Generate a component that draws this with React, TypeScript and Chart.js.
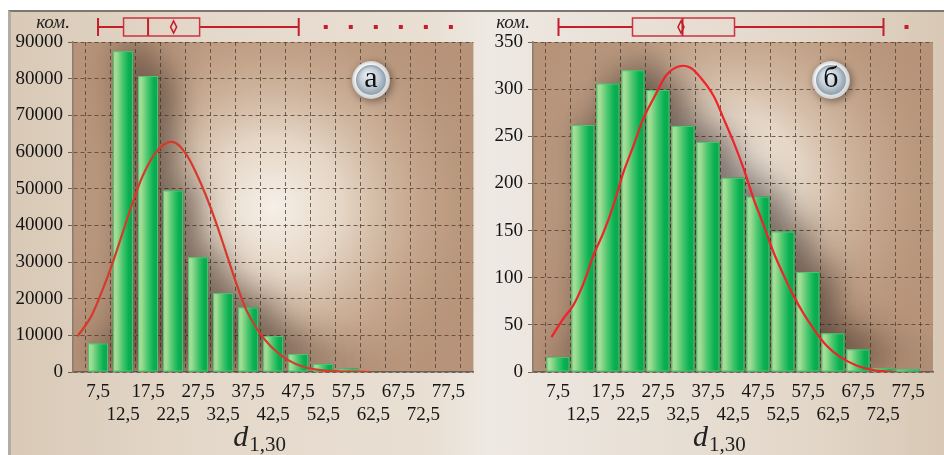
import React, { useEffect, useRef } from 'react';
import { Chart, registerables } from 'chart.js';

Chart.register(...registerables);

// Bin centres of the histograms (class width 5)
const binCenters = [7.5, 12.5, 17.5, 22.5, 27.5, 32.5, 37.5, 42.5, 47.5, 52.5, 57.5, 62.5, 67.5, 72.5, 77.5];
const tickLabels = ['7,5', '12,5', '17,5', '22,5', '27,5', '32,5', '37,5', '42,5', '47,5', '52,5', '57,5', '62,5', '67,5', '72,5', '77,5'];

// Panel (а): counts per bin
const countsA = [7800, 87500, 80700, 49500, 31300, 21500, 17600, 9800, 4900, 2200, 900, 0, 0, 0, 0];
// Panel (б): counts per bin
const countsB = [16, 262, 306, 320, 299, 261, 244, 206, 186, 149, 106, 41, 24, 4, 3];

// Fitted density curves
const curveAx = [3.4, 6.1, 8.4, 10.4, 12.4, 14.4, 16.4, 18.8, 21.1, 23.1, 25.1, 27.1, 29.1, 31.1, 33.1, 35.1, 37.1, 39.4, 42.1, 45.4, 48.8, 52.8, 57.5, 62.1];
const curveAy = [9700, 15100, 22400, 29700, 37900, 46100, 53400, 59400, 62400, 62400, 59400, 54300, 48000, 40700, 32500, 24300, 17000, 11500, 6900, 3300, 1300, 400, 100, 0];
const curveBx = [6.2, 8.6, 10.6, 12.6, 14.6, 16.6, 18.6, 20.6, 22.6, 24.6, 26.9, 29.2, 31.6, 33.9, 36.2, 38.6, 40.6, 42.6, 44.6, 46.6, 48.6, 50.6, 52.6, 54.6, 56.6, 58.6, 61.2, 63.9, 67.2, 70.6, 74.6];
const curveBy = [37, 57, 71, 94, 124, 148, 177, 212, 240, 269, 293, 315, 324, 323, 311, 293, 269, 244, 216, 184, 156, 127, 103, 81, 62, 46, 28, 16, 7, 2, 0];

// Box plots: [lower whisker, Q1, median, Q3, upper whisker]
const boxA = [7.5, 12.6, 17.5, 27.8, 47.6];
const meanA = 22.6;
const outliersA = [53, 58, 63, 68, 73, 78];
const boxB = [7.6, 22.4, 32.4, 42.8, 72.6];
const meanB = 32.1;
const outliersB = [77.2];

const SERIF = '"Liberation Serif", "Times New Roman", serif';
const GRID = 'rgba(85,66,50,0.8)';
const RED = '#c41e2c';

type PanelProps = {
  counts: number[];
  curveX: number[];
  curveY: number[];
  yMax: number;
  yStep: number;
  box: number[];
  mean: number;
  outliers: number[];
  barFrac: number;
  letter: string;
  lineColor: string;
  yAxisWidth: number;
  padRight: number;
  width: number;
  left: number;
  glowX: number;
  glowY: number;
};

function Panel(p: PanelProps) {
  const ref = useRef<HTMLCanvasElement>(null);

  useEffect(() => {
    const canvas = ref.current;
    if (!canvas) return;

    const decor = {
      id: 'panelDecor',
      beforeDraw(chart: any) {
        const { ctx, chartArea: a } = chart;
        const w = a.right - a.left;
        const h = a.bottom - a.top;
        ctx.save();
        ctx.fillStyle = '#b69379';
        ctx.fillRect(a.left, a.top, w, h);
        const cx = a.left + w * p.glowX;
        const cy = a.top + h * p.glowY;
        const g = ctx.createRadialGradient(cx, cy, 0, cx, cy, 230);
        g.addColorStop(0, 'rgba(246,240,233,1)');
        g.addColorStop(0.3, 'rgba(234,221,206,0.9)');
        g.addColorStop(0.7, 'rgba(205,176,150,0.45)');
        g.addColorStop(1, 'rgba(182,147,121,0)');
        ctx.fillStyle = g;
        ctx.fillRect(a.left, a.top, w, h);
        ctx.restore();
      },
      beforeDatasetDraw(chart: any, args: any) {
        if (args.index !== 0) return;
        const { ctx, chartArea: a } = chart;
        const bars = args.meta.data;
        ctx.save();
        ctx.beginPath();
        ctx.rect(a.left, a.top, a.right - a.left, a.bottom - a.top);
        ctx.clip();
        // soft dark haze behind the bars
        ctx.shadowColor = 'rgba(45,32,28,0.8)';
        ctx.shadowBlur = 34;
        ctx.shadowOffsetX = 12;
        ctx.shadowOffsetY = -6;
        ctx.fillStyle = 'rgba(70,60,55,1)';
        bars.forEach((el: any) => {
          const { x, y, base, width } = el.getProps(['x', 'y', 'base', 'width'], true);
          if (base - y < 0.5) return;
          ctx.fillRect(x - width / 2, y, width, base - y);
        });
        ctx.shadowColor = 'rgba(0,0,0,0)';
        ctx.shadowBlur = 0;
        ctx.shadowOffsetX = 0;
        ctx.shadowOffsetY = 0;
        bars.forEach((el: any) => {
          const { x, y, base, width } = el.getProps(['x', 'y', 'base', 'width'], true);
          if (base - y < 0.5) return;
          const l = x - width / 2;
          const g = ctx.createLinearGradient(l, 0, l + width, 0);
          g.addColorStop(0, '#a9de9c');
          g.addColorStop(0.18, '#9ddc92');
          g.addColorStop(0.5, '#45c46c');
          g.addColorStop(0.78, '#06b152');
          g.addColorStop(1, '#13a24e');
          ctx.fillStyle = g;
          ctx.fillRect(l, y, width, base - y);
          ctx.strokeStyle = '#52c373';
          ctx.lineWidth = 1;
          ctx.strokeRect(l + 0.5, y + 0.5, width - 1, base - y - 1);
        });
        ctx.restore();
        return false;
      },
      afterDraw(chart: any) {
        const { ctx, chartArea: a, scales } = chart;
        const xs = scales.x;
        const px = (v: number) => xs.getPixelForValue(v);
        ctx.save();

        // box plot above the plot area
        const cy = a.top - 15;
        const top = cy - 9;
        const bot = cy + 9;
        ctx.strokeStyle = RED;
        ctx.lineWidth = 2;
        ctx.beginPath();
        ctx.moveTo(px(p.box[0]), cy);
        ctx.lineTo(px(p.box[1]), cy);
        ctx.moveTo(px(p.box[3]), cy);
        ctx.lineTo(px(p.box[4]), cy);
        ctx.moveTo(px(p.box[0]), top);
        ctx.lineTo(px(p.box[0]), bot);
        ctx.moveTo(px(p.box[4]), top);
        ctx.lineTo(px(p.box[4]), bot);
        ctx.moveTo(px(p.box[2]), top);
        ctx.lineTo(px(p.box[2]), bot);
        ctx.stroke();
        ctx.lineWidth = 1.5;
        ctx.strokeStyle = '#cc3340';
        ctx.strokeRect(px(p.box[1]), top, px(p.box[3]) - px(p.box[1]), bot - top);
        // mean marker
        const mx = px(p.mean);
        ctx.strokeStyle = RED;
        ctx.lineWidth = 1.6;
        ctx.beginPath();
        ctx.moveTo(mx, cy - 6);
        ctx.lineTo(mx + 3, cy);
        ctx.lineTo(mx, cy + 6);
        ctx.lineTo(mx - 3, cy);
        ctx.closePath();
        ctx.stroke();
        // outliers
        ctx.fillStyle = RED;
        p.outliers.forEach((v) => ctx.fillRect(px(v) - 2, cy - 2, 4, 4));

        // unit label
        ctx.fillStyle = '#222';
        ctx.font = `italic 19px ${SERIF}`;
        ctx.textAlign = 'right';
        ctx.textBaseline = 'alphabetic';
        ctx.fillText('ком.', a.left - 3, a.top - 14);

        // panel letter badge
        const bx = a.left + 298;
        const by = a.top + 38;
        ctx.shadowColor = 'rgba(40,30,25,0.55)';
        ctx.shadowBlur = 8;
        ctx.shadowOffsetX = 2;
        ctx.shadowOffsetY = 2;
        const og = ctx.createRadialGradient(bx - 5, by - 6, 2, bx, by, 19);
        og.addColorStop(0, '#ffffff');
        og.addColorStop(0.7, '#f4f4f4');
        og.addColorStop(1, '#cfcfcf');
        ctx.fillStyle = og;
        ctx.beginPath();
        ctx.arc(bx, by, 19, 0, Math.PI * 2);
        ctx.fill();
        ctx.shadowColor = 'rgba(0,0,0,0)';
        const ig = ctx.createRadialGradient(bx - 4, by - 6, 1, bx, by, 15);
        ig.addColorStop(0, '#e8eef3');
        ig.addColorStop(0.6, '#c3ced8');
        ig.addColorStop(1, '#8e9eac');
        ctx.fillStyle = ig;
        ctx.beginPath();
        ctx.arc(bx, by, 15, 0, Math.PI * 2);
        ctx.fill();
        ctx.fillStyle = '#111';
        ctx.font = `30px ${SERIF}`;
        ctx.textAlign = 'center';
        ctx.textBaseline = 'middle';
        ctx.fillText(p.letter, bx, by - 1);

        // axis title d₁,₃₀
        const tx = (a.left + a.right) / 2 - 40;
        ctx.textAlign = 'left';
        ctx.textBaseline = 'alphabetic';
        ctx.fillStyle = '#222';
        ctx.font = `italic 30px ${SERIF}`;
        ctx.fillText('d', tx, 446);
        const dw = ctx.measureText('d').width;
        ctx.font = `21px ${SERIF}`;
        ctx.fillText('1,30', tx + dw + 1, 451);

        ctx.restore();
      },
    };

    const chart = new Chart(canvas, {
      type: 'bar',
      data: {
        datasets: [
          {
            type: 'bar',
            data: binCenters.map((x, i) => ({ x, y: p.counts[i] })),
            barPercentage: p.barFrac,
            categoryPercentage: 1,
            backgroundColor: '#2fbf5f',
            order: 2,
          } as any,
          {
            type: 'line',
            data: p.curveX.map((x, i) => ({ x, y: p.curveY[i] })),
            borderColor: p.lineColor,
            borderWidth: 2.2,
            pointRadius: 0,
            tension: 0.35,
            fill: false,
            order: 1,
          } as any,
        ],
      },
      options: {
        responsive: false,
        animation: false,
        devicePixelRatio: 1,
        layout: { padding: { top: 42, right: p.padRight, left: 0, bottom: 0 } },
        plugins: { legend: { display: false }, tooltip: { enabled: false } },
        scales: {
          x: {
            type: 'linear',
            min: 2.5,
            max: 82.5,
            offset: false,
            afterBuildTicks: (s: any) => {
              s.ticks = binCenters.map((v) => ({ value: v }));
            },
            afterFit: (s: any) => {
              s.height = 83;
            },
            ticks: {
              autoSkip: false,
              maxRotation: 0,
              minRotation: 0,
              padding: 9,
              color: '#151515',
              font: { family: SERIF, size: 19, lineHeight: 1.2 },
              callback: (_v: any, i: number) => (i % 2 === 0 ? [tickLabels[i], ''] : ['', tickLabels[i]]),
            },
            grid: { color: GRID, lineWidth: 1, drawTicks: false },
            border: { display: true, color: '#6e6258', width: 1.5, dash: [4, 3] },
          },
          y: {
            min: 0,
            max: p.yMax,
            afterFit: (s: any) => {
              s.width = p.yAxisWidth;
            },
            ticks: {
              stepSize: p.yStep,
              padding: 5,
              color: '#151515',
              font: { family: SERIF, size: 19 },
              callback: (v: any) => String(v),
            },
            grid: { color: GRID, lineWidth: 1, tickLength: 5 },
            border: { display: true, color: '#8a7d70', width: 1.5, dash: [4, 3] },
          },
        },
      } as any,
      plugins: [decor],
    });

    return () => chart.destroy();
  }, []);

  return (
    <canvas
      ref={ref}
      width={p.width}
      height={455}
      style={{ position: 'absolute', left: p.left, top: 0, width: p.width, height: 455 }}
    />
  );
}

export default function App() {
  return (
    <div
      style={{
        position: 'fixed',
        left: 0,
        top: 0,
        width: 944,
        height: 455,
        background: '#ffffff',
        overflow: 'hidden',
      }}
    >
      <div
        style={{
          position: 'absolute',
          left: 8,
          top: 10,
          width: 934,
          height: 445,
          borderTop: '2px solid #7d7770',
          borderLeft: '3px solid #b3aca4',
          background:
            'linear-gradient(90deg, #d9c9b6 0%, #e4d8ca 20%, #e9dfd3 45%, #eee9e3 51%, #ebe4dc 60%, #e3d7c9 85%, #d8c8b5 100%)',
        }}
      />
      <Panel
        counts={countsA}
        curveX={curveAx}
        curveY={curveAy}
        yMax={90000}
        yStep={10000}
        box={boxA}
        mean={meanA}
        outliers={outliersA}
        barFrac={0.8}
        letter="а"
        lineColor="#d63a2c"
        yAxisWidth={73}
        padRight={0}
        width={474}
        left={0}
        glowX={0.5}
        glowY={0.5}
      />
      <Panel
        counts={countsB}
        curveX={curveBx}
        curveY={curveBy}
        yMax={350}
        yStep={50}
        box={boxB}
        mean={meanB}
        outliers={outliersB}
        barFrac={0.92}
        letter="б"
        lineColor="#f0222a"
        yAxisWidth={59}
        padRight={11}
        width={470}
        left={474}
        glowX={0.5}
        glowY={0.43}
      />
    </div>
  );
}
